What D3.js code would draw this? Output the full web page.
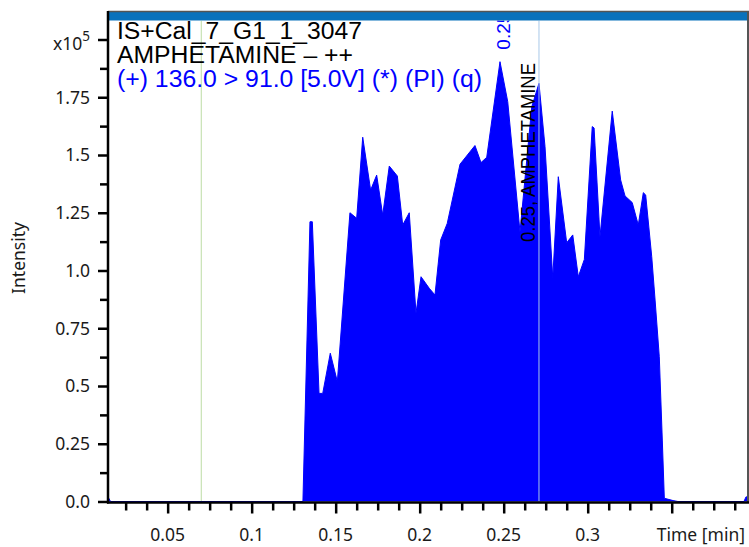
<!DOCTYPE html>
<html><head><meta charset="utf-8">
<script src="https://cdn.jsdelivr.net/npm/d3@7"></script>
<style>
html,body{margin:0;padding:0;background:#fff;}
svg{display:block;}
</style></head>
<body><svg id="c" width="749" height="547"></svg>
<script>
// ---- data ----
const times = [0.0145,0.0160,0.1305,0.1347,0.1361,0.1401,0.1423,0.1468,0.1510,0.1585,0.1625,0.1661,0.1708,0.1744,0.1780,0.1819,0.1867,0.1899,0.1938,0.1978,0.2008,0.2057,0.2091,0.2125,0.2164,0.2240,0.2329,0.2365,0.2399,0.2478,0.2524,0.2597,0.2667,0.2710,0.2746,0.2792,0.2825,0.2875,0.2911,0.2944,0.2980,0.3027,0.3038,0.3073,0.3146,0.3196,0.3222,0.3265,0.3301,0.3331,0.3345,0.3381,0.3401,0.3426,0.3444,0.3456,0.3508,0.3537,0.3930,0.3942,0.3954];
const intensities = [2000,0,0,121100,121100,46800,46800,64200,51900,125000,122600,157700,134800,141300,124000,145200,140900,119700,125000,81500,97300,92300,89400,113200,120400,146000,154100,146700,149000,190400,173100,116700,170900,181000,153600,96800,140600,112000,115400,97300,104800,162300,161700,114600,169000,139200,132300,129400,119700,133700,132700,106000,87200,62700,26600,1400,400,0,0,2000,2000];
const yTickValues = [0,25000,50000,75000,100000,125000,150000,175000];
const yTickLabels = ["0.0","0.25","0.5","0.75","1.0","1.25","1.5","1.75"];
const xTickValues = [0.05,0.1,0.15,0.2,0.25,0.3];
const xTickLabels = ["0.05","0.1","0.15","0.2","0.25","0.3"];
const titleLines = ["IS+Cal_7_G1_1_3047","AMPHETAMINE \u2013 ++","(+) 136.0 > 91.0 [5.0V] (*) (PI) (q)"];
const markerTimes = [0.07, 0.271];
const peakTime = 0.2478, peakLabel = "0.25";
const compoundLabel = "0.25, AMPHETAMINE";

// ---- layout ----
const L=108, R=748, T=11, B=501.5, headerB=20.5;
const svg = d3.select("#c");
const x = d3.scaleLinear().domain([0.0145,0.3954]).range([L,R]);
const y = d3.scaleLinear().domain([0,200000]).range([B,39.5]);
const labelFont = "'Noto Sans', 'Open Sans', sans-serif";
const titleFont = "'Liberation Sans', Arial, sans-serif";

svg.append("defs").append("clipPath").attr("id","plotclip")
  .append("rect").attr("x",L).attr("y",headerB).attr("width",R-L).attr("height",B-headerB+1);

const plot = svg.append("g").attr("clip-path","url(#plotclip)");

// marker lines (behind)
plot.append("line").attr("x1",x(markerTimes[0])).attr("x2",x(markerTimes[0]))
  .attr("y1",headerB).attr("y2",B).attr("stroke","#bcdca4").attr("stroke-width",1);

const pts = times.map((t,i)=>[t,intensities[i]]);
const area = d3.area().x(d=>x(d[0])).y0(y(0)).y1(d=>y(d[1]));
plot.append("path").datum(pts).attr("d",area).attr("fill","#0000ff");
plot.append("path").datum(pts).attr("d",d3.line().x(d=>x(d[0])).y(d=>y(d[1])))
  .attr("fill","none").attr("stroke","#0000ff").attr("stroke-width",1);

plot.append("line").attr("x1",x(markerTimes[1])).attr("x2",x(markerTimes[1]))
  .attr("y1",headerB).attr("y2",B).attr("stroke","#a9c8e8").attr("stroke-width",1);

// peak labels
const peakY = y(intensities[times.indexOf(peakTime)]);
plot.append("text").attr("transform",`translate(${x(peakTime)+10.5},${peakY-12}) rotate(-90)`)
  .attr("font-family",titleFont).attr("font-size",19).attr("fill","#0000ff").text(peakLabel);
plot.append("text").attr("transform",`translate(${x(markerTimes[1])-4},242) rotate(-90)`)
  .attr("font-family",titleFont).attr("font-size",20).attr("fill","#000")
  .attr("textLength",179).attr("lengthAdjust","spacingAndGlyphs").text(compoundLabel);

// header bar & frame
svg.append("rect").attr("x",L).attr("y",12).attr("width",R-L+1).attr("height",headerB-12).attr("fill","#0a72bc");
svg.append("line").attr("x1",L).attr("x2",749).attr("y1",11.5).attr("y2",11.5).attr("stroke","#555").attr("stroke-width",1.5);
svg.append("line").attr("x1",748).attr("x2",748).attr("y1",11).attr("y2",503).attr("stroke","#555").attr("stroke-width",2);

// title text
const tl = [38.5, 62.5, 87];
const tw = [245, 236, 365];
titleLines.forEach((s,i)=>{
  svg.append("text").attr("x",117).attr("y",tl[i]).attr("font-family",titleFont).attr("font-size",23)
    .attr("fill", i===2 ? "#0000ff" : "#000").attr("textLength",tw[i]).attr("lengthAdjust","spacingAndGlyphs").text(s);
});

// y axis
const yMinor = d3.range(12500,200000,25000);
svg.append("g").attr("transform",`translate(${L},0)`)
  .call(d3.axisLeft(y).tickValues(yTickValues.concat([200000])).tickSize(10).tickFormat(""));
svg.append("g").attr("transform",`translate(${L},0)`)
  .call(d3.axisLeft(y).tickValues(yMinor).tickSize(8).tickFormat(""));
svg.selectAll("g .domain").remove();
svg.selectAll("g .tick line").attr("stroke","#000").attr("stroke-width",2.5);
yTickValues.forEach((v,i)=>{
  svg.append("text").attr("x",90).attr("y",y(v)).attr("dy","0.36em").attr("text-anchor","end")
    .attr("font-family",labelFont).attr("font-size",17.5).attr("fill","#1a1a1a").text(yTickLabels[i]);
});
const xl = svg.append("text").attr("x",90).attr("y",y(200000)+10).attr("text-anchor","end")
  .attr("font-family",labelFont).attr("font-size",17.5).attr("fill","#1a1a1a");
xl.append("tspan").text("x10");
xl.append("tspan").attr("dy",-9).attr("font-size",13.5).text("5");

svg.append("text").attr("transform",`translate(25,258) rotate(-90)`).attr("text-anchor","middle")
  .attr("font-family",labelFont).attr("font-size",17.5).attr("fill","#1a1a1a").text("Intensity");

// x axis
const xMajor = d3.range(0.05,0.36,0.05);
const xMinor = d3.range(0.025,0.39,0.0125).filter(v=>Math.abs(v/0.05-Math.round(v/0.05))>1e-6);
const gx1 = svg.append("g").attr("transform",`translate(0,${B+1})`)
  .call(d3.axisBottom(x).tickValues(xMajor).tickSize(11).tickFormat(""));
const gx2 = svg.append("g").attr("transform",`translate(0,${B+1})`)
  .call(d3.axisBottom(x).tickValues(xMinor).tickSize(8).tickFormat(""));
[gx1,gx2].forEach(g=>{g.select(".domain").remove(); g.selectAll(".tick line").attr("stroke","#000").attr("stroke-width",2.5);});
xTickValues.forEach((v,i)=>{
  svg.append("text").attr("x",x(v)).attr("y",541).attr("text-anchor","middle")
    .attr("font-family",labelFont).attr("font-size",17.5).attr("fill","#1a1a1a").text(xTickLabels[i]);
});
svg.append("text").attr("x",745).attr("y",541).attr("text-anchor","end")
  .attr("font-family",labelFont).attr("font-size",17.5).attr("fill","#1a1a1a").text("Time [min]");

// axis lines
svg.append("line").attr("x1",L).attr("x2",L).attr("y1",11).attr("y2",503.5).attr("stroke","#000").attr("stroke-width",2.5);
svg.append("line").attr("x1",L-1).attr("x2",749).attr("y1",B+1).attr("y2",B+1).attr("stroke","#000").attr("stroke-width",2.5);
</script></body></html>
